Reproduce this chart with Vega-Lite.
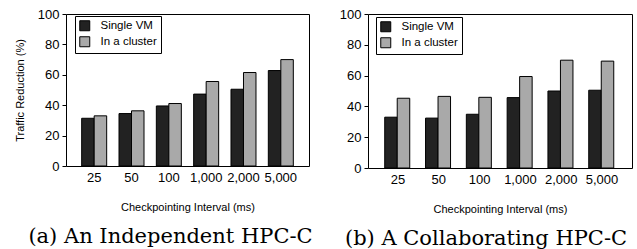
{
  "$schema": "https://vega.github.io/schema/vega-lite/v6.json",
  "padding": {"left": 13, "top": 7, "right": 2, "bottom": 0},
  "background": "white",
  "config": {
    "font": "Arial",
    "view": {"stroke": "black", "strokeWidth": 1},
    "axis": {"labelFont": "Arial", "titleFont": "Arial", "labelColor": "black", "titleColor": "black", "domainColor": "black", "tickColor": "black", "titleFontWeight": "normal", "labelFontSize": 13, "titleFontSize": 11, "grid": false},
    "legend": {"labelFont": "Arial", "labelFontSize": 11.5, "labelColor": "black"},
    "title": {"font": "DejaVu Serif", "fontSize": 21, "fontWeight": "normal", "color": "black"}
  },
  "datasets": {
    "a": [
      {"interval": "25", "series": "Single VM", "value": 31.4},
      {"interval": "25", "series": "In a cluster", "value": 33.0},
      {"interval": "50", "series": "Single VM", "value": 34.5},
      {"interval": "50", "series": "In a cluster", "value": 36.3},
      {"interval": "100", "series": "Single VM", "value": 39.5},
      {"interval": "100", "series": "In a cluster", "value": 41.1},
      {"interval": "1,000", "series": "Single VM", "value": 47.3},
      {"interval": "1,000", "series": "In a cluster", "value": 55.6},
      {"interval": "2,000", "series": "Single VM", "value": 50.5},
      {"interval": "2,000", "series": "In a cluster", "value": 61.5},
      {"interval": "5,000", "series": "Single VM", "value": 62.8},
      {"interval": "5,000", "series": "In a cluster", "value": 70.0}
    ],
    "b": [
      {"interval": "25", "series": "Single VM", "value": 33.0},
      {"interval": "25", "series": "In a cluster", "value": 45.3},
      {"interval": "50", "series": "Single VM", "value": 32.4},
      {"interval": "50", "series": "In a cluster", "value": 46.5},
      {"interval": "100", "series": "Single VM", "value": 34.9},
      {"interval": "100", "series": "In a cluster", "value": 45.9},
      {"interval": "1,000", "series": "Single VM", "value": 45.7},
      {"interval": "1,000", "series": "In a cluster", "value": 59.4},
      {"interval": "2,000", "series": "Single VM", "value": 50.0},
      {"interval": "2,000", "series": "In a cluster", "value": 70.0},
      {"interval": "5,000", "series": "Single VM", "value": 50.5},
      {"interval": "5,000", "series": "In a cluster", "value": 69.4}
    ]
  },
  "resolve": {"legend": {"color": "independent"}},
  "spacing": 24,
  "hconcat": [
    {
      "data": {"name": "a"},
      "width": 243,
      "height": 152,
      "title": {"text": "(a) An Independent HPC-C", "orient": "bottom", "anchor": "middle", "frame": "group", "dx": -17, "offset": 14},
      "mark": {"type": "bar", "stroke": "black", "strokeWidth": 1},
      "encoding": {
        "x": {"field": "interval", "type": "nominal", "sort": ["25", "50", "100", "1,000", "2,000", "5,000"],
              "scale": {"paddingInner": 0.33, "paddingOuter": 0.42},
              "axis": {"title": "Checkpointing Interval (ms)", "labelAngle": 0, "ticks": false, "labelPadding": 5, "titlePadding": 17, "domain": false}},
        "xOffset": {"field": "series", "type": "nominal", "sort": ["Single VM", "In a cluster"]},
        "y": {"field": "value", "type": "quantitative", "scale": {"domain": [0, 100]},
              "axis": {"title": "Traffic Reduction (%)", "values": [0, 20, 40, 60, 80, 100], "tickSize": 4, "labelPadding": 3, "titlePadding": 12, "domain": false}},
        "color": {"field": "series", "type": "nominal", "sort": ["Single VM", "In a cluster"],
                  "scale": {"domain": ["Single VM", "In a cluster"], "range": ["#222222", "#a9a9a9"]},
                  "legend": {"title": null, "orient": "none", "legendX": 9, "legendY": 2, "strokeColor": "black", "fillColor": "white", "padding": 4, "symbolType": "square", "symbolSize": 100, "symbolStrokeColor": "black", "symbolStrokeWidth": 1, "symbolOpacity": 1, "rowPadding": 1, "labelOffset": 10}}
      }
    },
    {
      "data": {"name": "b"},
      "width": 264,
      "height": 154,
      "title": {"text": "(b) A Collaborating HPC-C", "orient": "bottom", "anchor": "middle", "frame": "group", "dx": -14, "offset": 14},
      "mark": {"type": "bar", "stroke": "black", "strokeWidth": 1},
      "encoding": {
        "x": {"field": "interval", "type": "nominal", "sort": ["25", "50", "100", "1,000", "2,000", "5,000"],
              "scale": {"paddingInner": 0.35, "paddingOuter": 0.41},
              "axis": {"title": "Checkpointing Interval (ms)", "labelAngle": 0, "ticks": false, "labelPadding": 5, "titlePadding": 17, "domain": false}},
        "xOffset": {"field": "series", "type": "nominal", "sort": ["Single VM", "In a cluster"]},
        "y": {"field": "value", "type": "quantitative", "scale": {"domain": [0, 100]},
              "axis": {"title": null, "values": [0, 20, 40, 60, 80, 100], "tickSize": 4, "labelPadding": 3, "domain": false}},
        "color": {"field": "series", "type": "nominal", "sort": ["Single VM", "In a cluster"],
                  "scale": {"domain": ["Single VM", "In a cluster"], "range": ["#222222", "#a9a9a9"]},
                  "legend": {"title": null, "orient": "none", "legendX": 8, "legendY": 3, "strokeColor": "black", "fillColor": "white", "padding": 4, "symbolType": "square", "symbolSize": 100, "symbolStrokeColor": "black", "symbolStrokeWidth": 1, "symbolOpacity": 1, "rowPadding": 1, "labelOffset": 10}}
      }
    }
  ]
}
